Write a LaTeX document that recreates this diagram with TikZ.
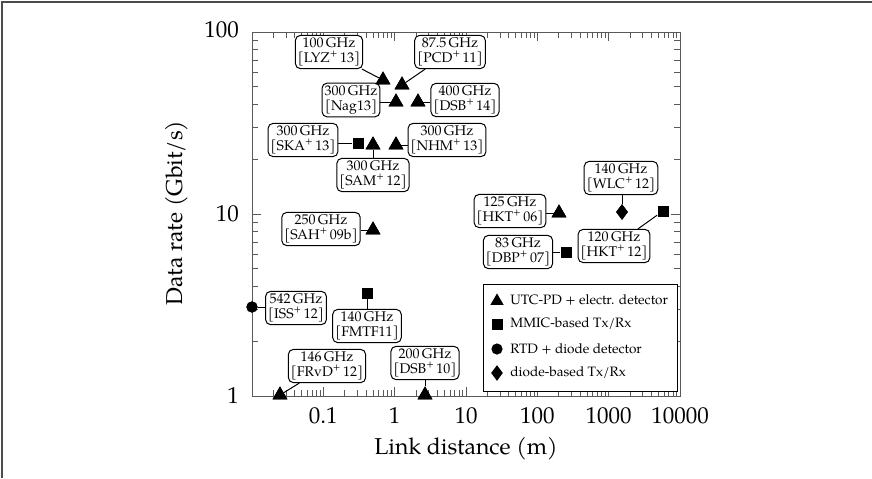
\documentclass[tikz,border=0pt]{standalone}
\usepackage{fontspec}
\setmainfont{TeX Gyre Pagella}
\usetikzlibrary{shapes.geometric}
\tikzset{
  lbl/.style={draw=black, line width=0.5pt, rounded corners=2.5pt, fill=white, align=center,
    inner sep=1.3pt, font=\fontsize{7}{7.3}\selectfont},
  tri/.style={regular polygon, regular polygon sides=3, fill=black, inner sep=0pt, minimum size=8.6pt},
  sq/.style={rectangle, fill=black, inner sep=0pt, minimum size=5.5pt},
  dot/.style={circle, fill=black, inner sep=0pt, minimum size=5.6pt},
  dia/.style={diamond, fill=black, inner sep=0pt, minimum width=6pt, minimum height=8pt},
  conn/.style={line width=0.5pt, draw=black},
  axisline/.style={line width=0.5pt, draw=black!65},
  ticklbl/.style={font=\fontsize{11.5}{13}\selectfont},
  legtxt/.style={font=\fontsize{6.8}{8}\selectfont, anchor=west, inner sep=0pt},
}
\begin{document}
\begin{tikzpicture}[x=0.5pt,y=-0.5pt]
\useasboundingbox (0,0) rectangle (872,478);
% outer frame (left and top)
\draw[line width=0.8pt, draw=black!70] (2,478) -- (2,2) -- (872,2);
% axis box
\draw[axisline] (252,32) rectangle (680,396);
% x ticks
\foreach \d in {0,...,6} {
  \pgfmathsetmacro\xx{252+71.333*\d}
  \draw[axisline] (\xx,396) -- (\xx,387);
  \draw[axisline] (\xx,32) -- (\xx,41);
}
\foreach \d in {0,...,5} {
  \foreach \k in {2,...,9} {
    \pgfmathsetmacro\xx{252+71.333*(\d+log10(\k))}
    \draw[axisline] (\xx,396) -- (\xx,390);
    \draw[axisline] (\xx,32) -- (\xx,38);
  }
}
% y ticks
\foreach \d in {0,1,2} {
  \pgfmathsetmacro\yy{396-182*\d}
  \draw[axisline] (252,\yy) -- (261,\yy);
  \draw[axisline] (680,\yy) -- (671,\yy);
}
\foreach \d in {0,1} {
  \foreach \k in {2,...,9} {
    \pgfmathsetmacro\yy{396-182*(\d+log10(\k))}
    \draw[axisline] (252,\yy) -- (258,\yy);
    \draw[axisline] (680,\yy) -- (674,\yy);
  }
}
% tick labels
\node[ticklbl, anchor=east] (y1) at (246,396) {1};
\node[ticklbl, anchor=east] (y10) at (246,214) {10};
\node[ticklbl, anchor=east] (y100) at (246,30) {100};
\node[ticklbl] (x01) at (323.3,416) {0.1};
\node[ticklbl] (x1) at (394.7,416) {1};
\node[ticklbl] (x10) at (466,416) {10};
\node[ticklbl] (x100) at (537.3,416) {100};
\node[ticklbl] (x1000) at (608.7,416) {1000};
\node[ticklbl] (x10000) at (680,416) {10000};
% axis labels
\node[ticklbl] (xlab) at (466,449) {Link distance (m)};
\node[ticklbl, rotate=90] (ylab) at (177,213) {Data rate (Gbit/s)};

% markers
\node[tri] (p1) at (383,80) {};
\node[tri] (p2) at (402,85) {};
\node[tri] (p3) at (396,102) {};
\node[tri] (p4) at (418,102) {};
\node[sq]  (p5) at (358,143) {};
\node[tri] (p6) at (373,145) {};
\node[tri] (p7) at (396,145) {};
\node[tri] (p8) at (373,230) {};
\node[dot] (p9) at (252,307) {};
\node[sq]  (p10) at (367,293) {};
\node[tri] (p11) at (280,395) {};
\node[tri] (p12) at (425,395) {};
\node[tri] (p13) at (559,213) {};
\node[sq]  (p14) at (566,252) {};
\node[dia] (p15) at (622,212) {};
\node[sq]  (p16) at (663,211) {};

% labels
\node[lbl] (L1) at (329,52) {100\,GHz\\{}[LYZ\textsuperscript{+}\kern0.8pt13]};
\node[lbl] (L2) at (450,52) {87.5\,GHz\\{}[PCD\textsuperscript{+}\kern0.8pt11]};
\node[lbl] (L3) at (351,100) {300\,GHz\\{}[Nag13]};
\node[lbl] (L4) at (465,100) {400\,GHz\\{}[DSB\textsuperscript{+}\kern0.8pt14]};
\node[lbl] (L5) at (303,140) {300\,GHz\\{}[SKA\textsuperscript{+}\kern0.8pt13]};
\node[lbl] (L6) at (373,175) {300\,GHz\\{}[SAM\textsuperscript{+}\kern0.8pt12]};
\node[lbl] (L7) at (447,140) {300\,GHz\\{}[NHM\textsuperscript{+}\kern0.8pt13]};
\node[lbl] (L8) at (321,229) {250\,GHz\\{}[SAH\textsuperscript{+}\kern0.8pt09b]};
\node[lbl] (L9) at (296,308) {542\,GHz\\{}[ISS\textsuperscript{+}\kern0.8pt12]};
\node[lbl] (L10) at (367,326) {140\,GHz\\{}[FMTF11]};
\node[lbl] (L11) at (327,366) {146\,GHz\\{}[FRvD\textsuperscript{+}\kern0.8pt12]};
\node[lbl] (L12) at (425,363) {200\,GHz\\{}[DSB\textsuperscript{+}\kern0.8pt10]};
\node[lbl] (L13) at (510,211) {125\,GHz\\{}[HKT\textsuperscript{+}\kern0.8pt06]};
\node[lbl] (L14) at (518,252) {83\,GHz\\{}[DBP\textsuperscript{+}\kern0.8pt07]};
\node[lbl] (L15) at (621,178) {140\,GHz\\{}[WLC\textsuperscript{+}\kern0.8pt12]};
\node[lbl] (L16) at (614,246) {120\,GHz\\{}[HKT\textsuperscript{+}\kern0.8pt12]};

% connectors
\draw[conn] (L1) -- (p1);
\draw[conn] (L2) -- (p2);
\draw[conn] (L3.east |- p3) -- (p3);
\draw[conn] (L4.west |- p4) -- (p4);
\draw[conn] (L5.east |- p5) -- (p5);
\draw[conn] (L6.north -| p6) -- (p6);
\draw[conn] (L7.west |- p7) -- (p7);
\draw[conn] (L8.east |- p8) -- (p8);
\draw[conn] (L9.west |- p9) -- (p9);
\draw[conn] (L10.north -| p10) -- (p10);
\draw[conn] (L11) -- (p11);
\draw[conn] (L12.south -| p12) -- (p12);
\draw[conn] (L13.east |- p13) -- (p13);
\draw[conn] (L14.east |- p14) -- (p14);
\draw[conn] (L15.south -| p15) -- (p15);
\draw[conn] (L16) -- (p16);
% redraw markers on top of connectors
\foreach \n in {p1,p2,p3,p4,p6,p7,p8,p11,p12,p13} { \node[tri] at (\n) {}; }
\foreach \n in {p5,p10,p14,p16} { \node[sq] at (\n) {}; }
\node[dot] at (p9) {};
\node[dia] at (p15) {};

% legend
\node[draw=black, line width=0.5pt, fill=white, minimum width=97pt, minimum height=53.5pt, inner sep=0pt] (leg) at (580,337.5) {};
\node[tri, minimum size=7.6pt] (lg1) at (497,301) {};
\node[sq] (lg2) at (497,324) {};
\node[dot] (lg3) at (497,349) {};
\node[dia] (lg4) at (497,373) {};
\node[legtxt] (lt1) at (510,300) {UTC-PD + electr. detector};
\node[legtxt] (lt2) at (510,324) {MMIC-based Tx/Rx};
\node[legtxt] (lt3) at (510,349) {RTD + diode detector};
\node[legtxt] (lt4) at (510,373) {diode-based Tx/Rx};
\end{tikzpicture}
\end{document}
